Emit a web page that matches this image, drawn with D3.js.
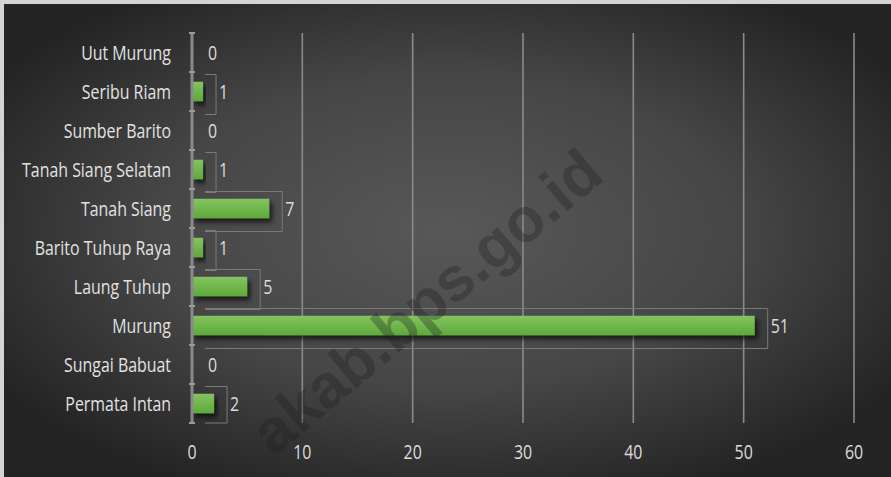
<!DOCTYPE html>
<html><head><meta charset="utf-8">
<script src="https://cdn.jsdelivr.net/npm/d3@7"></script>
<style>
html,body{margin:0;padding:0;background:#ffffff;}
svg{display:block;}
.lbl{font-family:"Open Sans","Noto Sans",sans-serif;}
</style></head>
<body>
<svg id="c" width="891" height="477"></svg>
<script>
const categories = ["Uut Murung","Seribu Riam","Sumber Barito","Tanah Siang Selatan","Tanah Siang","Barito Tuhup Raya","Laung Tuhup","Murung","Sungai Babuat","Permata Intan"];
const values = [0,1,0,1,7,1,5,51,0,2];
const xTicks = [0,10,20,30,40,50,60];
const watermark = "akab.bps.go.id";

(function(){
const W = 891, H = 477;
const svg = d3.select("#c");
const defs = svg.append("defs");

const bg = defs.append("radialGradient").attr("id","bg")
  .attr("cx","50%").attr("cy","48%").attr("r","60%");
bg.append("stop").attr("offset","0%").attr("stop-color","#585858");
bg.append("stop").attr("offset","55%").attr("stop-color","#464646");
bg.append("stop").attr("offset","100%").attr("stop-color","#242424");

const bar = defs.append("linearGradient").attr("id","bar").attr("x1",0).attr("y1",0).attr("x2",0).attr("y2",1);
bar.append("stop").attr("offset","0%").attr("stop-color","#84c45f");
bar.append("stop").attr("offset","100%").attr("stop-color","#5da93b");

const f = defs.append("filter").attr("id","sh").attr("x","-10%").attr("y","-50%").attr("width","130%").attr("height","250%");
f.append("feDropShadow").attr("dx",3).attr("dy",4).attr("stdDeviation",2.5)
  .attr("flood-color","#000").attr("flood-opacity",0.65);

// frame
svg.append("rect").attr("x",0).attr("y",0).attr("width",W).attr("height",H).attr("fill","#d4d4d4");
svg.append("rect").attr("x",4).attr("y",4).attr("width",W-4).attr("height",H-4).attr("fill","url(#bg)");

const x = d3.scaleLinear().domain([0,60]).range([192,854]);
const y = d3.scaleBand().domain(categories).range([33,423]).paddingInner(0.5).paddingOuter(0.25);
const pTop = 33, pBottom = 423;

// condensed factor: measure the font once
const probe = svg.append("text").attr("class","lbl").attr("font-size",20).text("Tanah Siang Selatan");
const sx = 149 / probe.node().getComputedTextLength();
probe.remove();
const cond = (px,py) => `translate(${px},${py}) scale(${sx},1)`;

// gridlines
svg.append("g").selectAll("line").data(xTicks.filter(t=>t>0)).join("line")
  .attr("x1",d=>x(d)).attr("x2",d=>x(d)).attr("y1",pTop).attr("y2",pBottom)
  .attr("stroke","#8e8989").attr("stroke-width",1.6);

const rows = categories.map((c,i)=>({c,v:values[i]}));

// label boxes
svg.append("g").selectAll("path").data(rows.filter(d=>d.v>0)).join("path")
  .attr("d",d=>{
    const cy = y(d.c)+y.bandwidth()/2;
    const t = cy-17, b = Math.min(cy+23,pBottom);
    const R = x(d.v)+13, L = x(0)+13;
    return `M${L},${t}H${R}V${b}H${L}`;
  })
  .attr("fill","none").attr("stroke","#7a7a7a").attr("stroke-width",1);

// bars
svg.append("g").selectAll("rect").data(rows.filter(d=>d.v>0)).join("rect")
  .attr("x",x(0)).attr("y",d=>y(d.c)).attr("width",d=>x(d.v)-x(0)).attr("height",y.bandwidth())
  .attr("fill","url(#bar)").attr("filter","url(#sh)");

// zero axis
svg.append("line").attr("x1",x(0)).attr("x2",x(0)).attr("y1",pTop).attr("y2",pBottom)
  .attr("stroke","#8a8a8a").attr("stroke-width",3);
const bounds = d3.range(categories.length+1).map(i=>pTop + i*y.step());
svg.append("g").selectAll("line").data(bounds).join("line")
  .attr("x1",x(0)-3).attr("x2",x(0)+3).attr("y1",d=>d).attr("y2",d=>d)
  .attr("stroke","#9a9a9a").attr("stroke-width",2);

// category labels
svg.append("g").selectAll("text").data(categories).join("text")
  .attr("class","lbl").attr("transform",d=>cond(171, y(d)+y.bandwidth()/2))
  .attr("text-anchor","end").attr("dominant-baseline","central")
  .attr("font-size",20).attr("fill","#e2e2e2").text(d=>d);

// data labels
svg.append("g").selectAll("text").data(rows).join("text")
  .attr("class","lbl").attr("transform",d=>cond(x(d.v)+16, y(d.c)+y.bandwidth()/2))
  .attr("dominant-baseline","central")
  .attr("font-size",20).attr("fill","#dcdcdc").text(d=>d.v);

// x tick labels
svg.append("g").selectAll("text").data(xTicks).join("text")
  .attr("class","lbl").attr("transform",d=>cond(x(d), 451))
  .attr("text-anchor","middle").attr("dominant-baseline","central")
  .attr("font-size",20).attr("fill","#dcdcdc").text(d=>d);

// watermark
svg.append("text").attr("transform","translate(440,318) rotate(-40)")
  .attr("text-anchor","middle")
  .attr("font-family","Liberation Sans, Arial, sans-serif").attr("font-weight","bold")
  .attr("font-size",62).attr("fill","#1e1e1e").attr("fill-opacity",0.33)
  .text(watermark);
})();
</script>
</body></html>
